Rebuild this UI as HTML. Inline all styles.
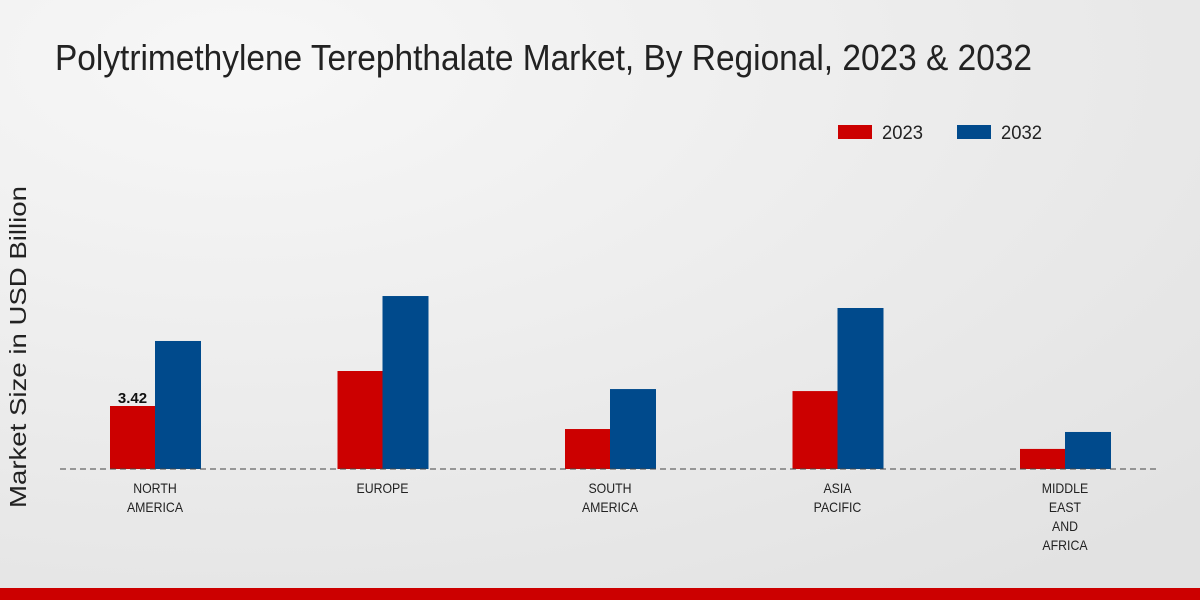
<!DOCTYPE html>
<html><head><meta charset="utf-8"><style>
body{margin:0;width:1200px;height:600px;overflow:hidden;font-family:"Liberation Sans",sans-serif;}
svg{display:block}
</style></head><body>
<svg width="1200" height="600" xmlns="http://www.w3.org/2000/svg">
<defs><radialGradient id="bg" cx="0.2" cy="0.1" r="1.1"><stop offset="0" stop-color="#f7f7f7"/><stop offset="1" stop-color="#e2e2e2"/></radialGradient></defs>
<rect width="1200" height="600" fill="url(#bg)"/>
<text x="55" y="70" font-size="36" fill="#222" textLength="977" lengthAdjust="spacingAndGlyphs">Polytrimethylene Terephthalate Market, By Regional, 2023 &amp; 2032</text>
<g>
<rect x="838" y="125" width="34" height="14" fill="#cc0000"/>
<text x="882" y="139" font-size="19" fill="#222" textLength="41" lengthAdjust="spacingAndGlyphs">2023</text>
<rect x="957" y="125" width="34" height="14" fill="#004a8c"/>
<text x="1001" y="139" font-size="19" fill="#222" textLength="41" lengthAdjust="spacingAndGlyphs">2032</text>
</g>
<text transform="translate(26,347) rotate(-90)" text-anchor="middle" font-size="23" fill="#222" textLength="322" lengthAdjust="spacingAndGlyphs">Market Size in USD Billion</text>
<g id="bars"></g>
<line x1="60" y1="469" x2="1160" y2="469" stroke="#444" stroke-dasharray="6,4"/>
<g id="labels"></g>
<rect x="0" y="588" width="1200" height="12" fill="#cc0000"/>
</svg>
<script>
const categories=[["NORTH","AMERICA"],["EUROPE"],["SOUTH","AMERICA"],["ASIA","PACIFIC"],["MIDDLE","EAST","AND","AFRICA"]];
const values2023=[3.42,5.32,2.17,4.23,1.09];
const values2032=[6.95,9.39,4.34,8.74,2.01];
const ns="http://www.w3.org/2000/svg";
const base=469, scale=63/3.42;
const xc=i=>155+i*227.5;
const y=v=>base-v*scale;
const bars=document.getElementById('bars'), labels=document.getElementById('labels');
function mk(t,a){const e=document.createElementNS(ns,t);for(const k in a)e.setAttribute(k,a[k]);return e;}
categories.forEach((c,i)=>{
 const r=mk('rect',{x:xc(i)-45,y:y(values2023[i]),width:45,height:values2023[i]*scale,fill:'#cc0000'});
 
 
 bars.appendChild(r);
 const b=mk('rect',{x:xc(i),y:y(values2032[i]),width:46,height:values2032[i]*scale,fill:'#004a8c'});
 
 
 bars.appendChild(b);
 c.forEach((line,j)=>{
  const t=mk('text',{x:xc(i),y:493+j*19,'text-anchor':'middle','font-size':14,fill:'#222',transform:`translate(${xc(i)*0.12},0) scale(0.88,1)`});
  t.textContent=line;
  
  
  labels.appendChild(t);
 });
});
const v=mk('text',{x:xc(0)-22.5,y:y(values2023[0])-3,'text-anchor':'middle','font-size':15,'font-weight':'bold',fill:'#111'});
v.textContent=values2023[0].toFixed(2);


labels.appendChild(v);
</script>
</body></html>
